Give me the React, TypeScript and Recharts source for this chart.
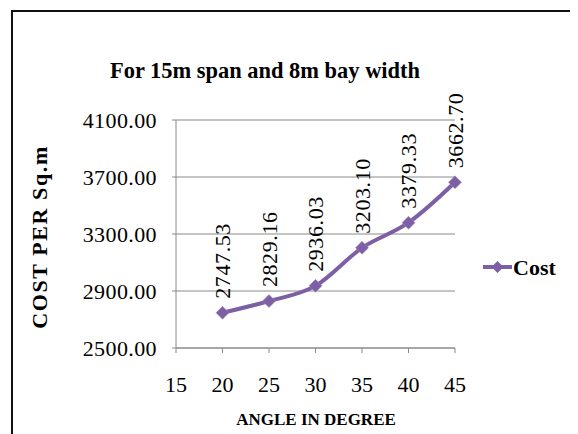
import React from 'react';
import { LineChart, Line, XAxis, YAxis, CartesianGrid, LabelList, Legend } from 'recharts';

const angles = [20, 25, 30, 35, 40, 45];
const costs = [2747.53, 2829.16, 2936.03, 3203.1, 3379.33, 3662.7];
const xTicks = [15, 20, 25, 30, 35, 40, 45];
const yTicks = [2500, 2900, 3300, 3700, 4100];
const seriesName = 'Cost';
const title = 'For 15m span and 8m bay width';
const yTitle = 'COST PER Sq.m';
const xTitle = 'ANGLE IN DEGREE';

const data = angles.map((a, i) => ({ angle: a, cost: costs[i] }));

const PURPLE = '#7D5FA6';
const AXIS = '#8a8a8a';
const FONT = 'Liberation Serif, Times New Roman, serif';

const Diamond = (props: any) => {
  const { cx, cy } = props;
  if (cx == null || cy == null) return null;
  const r = 6.5;
  return (
    <polygon
      points={`${cx},${cy - r} ${cx + r},${cy} ${cx},${cy + r} ${cx - r},${cy}`}
      fill={PURPLE}
      stroke="#9a8fb0"
      strokeWidth={0.5}
    />
  );
};

const RotLabel = (props: any) => {
  const { x, y, value } = props;
  return (
    <text
      transform={`translate(${x},${y - 14}) rotate(-90)`}
      dy="0.35em"
      style={{ fontFamily: FONT }}
      fontSize={22}
      fill="#000"
      textAnchor="start"
      letterSpacing={0.6}
    >
      {Number(value).toFixed(2)}
    </text>
  );
};

const renderLegend = () => (
  <svg width={95} height={30}>
    <line x1={0} y1={15} x2={29} y2={15} stroke={PURPLE} strokeWidth={4} />
    <polygon points="14.5,9 20.5,15 14.5,21 8.5,15" fill={PURPLE} />
    <text x={30} y={23} style={{ fontFamily: FONT }} fontSize={22} fontWeight="bold" fill="#000">
      {seriesName}
    </text>
  </svg>
);

export default function App() {
  return (
    <div style={{ position: 'relative', width: 570, height: 426, overflow: 'hidden', background: '#fff' }}>
      <div
        style={{
          position: 'absolute',
          left: 3,
          top: 2,
          width: 700,
          height: 700,
          border: '2px solid #111',
          boxSizing: 'border-box',
        }}
      />
      <div style={{ position: 'absolute', left: 0, top: 0 }}>
        <LineChart width={570} height={426} data={data} margin={{ top: 112, right: 123, bottom: 56, left: 0 }}>
          <CartesianGrid vertical={false} stroke={AXIS} strokeWidth={1} />
          <XAxis
            dataKey="angle"
            type="number"
            domain={[15, 45]}
            ticks={xTicks}
            height={30}
            axisLine={{ stroke: AXIS }}
            tickLine={{ stroke: AXIS }}
            tickSize={5}
            tickMargin={23}
            tick={{ fill: '#000', style: { fontFamily: FONT }, fontSize: 22 }}
            interval={0}
          />
          <YAxis
            type="number"
            domain={[2500, 4100]}
            ticks={yTicks}
            width={168}
            axisLine={{ stroke: AXIS }}
            tickLine={{ stroke: AXIS }}
            tickSize={4}
            tickMargin={15}
            tickFormatter={(v: number) => v.toFixed(2)}
            tick={{ fill: '#000', style: { fontFamily: FONT }, fontSize: 22, letterSpacing: 0.4 }}
            interval={0}
          />
          <Legend
            layout="horizontal"
            verticalAlign="middle"
            align="center"
            content={renderLegend}
            wrapperStyle={{ left: 475, top: 244, width: 95, height: 30 }}
          />
          <Line
            type="monotone"
            dataKey="cost"
            name={seriesName}
            stroke={PURPLE}
            strokeWidth={4}
            dot={<Diamond />}
            activeDot={false}
            isAnimationActive={false}
          >
            <LabelList dataKey="cost" content={<RotLabel />} />
          </Line>
        </LineChart>
      </div>
      <svg
        width={570}
        height={426}
        style={{ position: 'absolute', left: 0, top: 0, pointerEvents: 'none' }}
      >
        <text
          x={102}
          y={70}
          textLength={310}
          lengthAdjust="spacingAndGlyphs"
          style={{ fontFamily: FONT }}
          fontSize={23}
          fontWeight="bold"
          fill="#000"
        >
          {title}
        </text>
        <text
          transform="translate(31,229) rotate(-90)"
          dy="0.35em"
          textAnchor="middle"
          style={{ fontFamily: FONT }}
          fontSize={22}
          fontWeight="bold"
          fill="#000"
          letterSpacing={1.6}
        >
          {yTitle}
        </text>
        <text x={308} y={417} textAnchor="middle" style={{ fontFamily: FONT }} fontSize={17} fontWeight="bold" fill="#000">
          {xTitle}
        </text>
      </svg>
    </div>
  );
}
